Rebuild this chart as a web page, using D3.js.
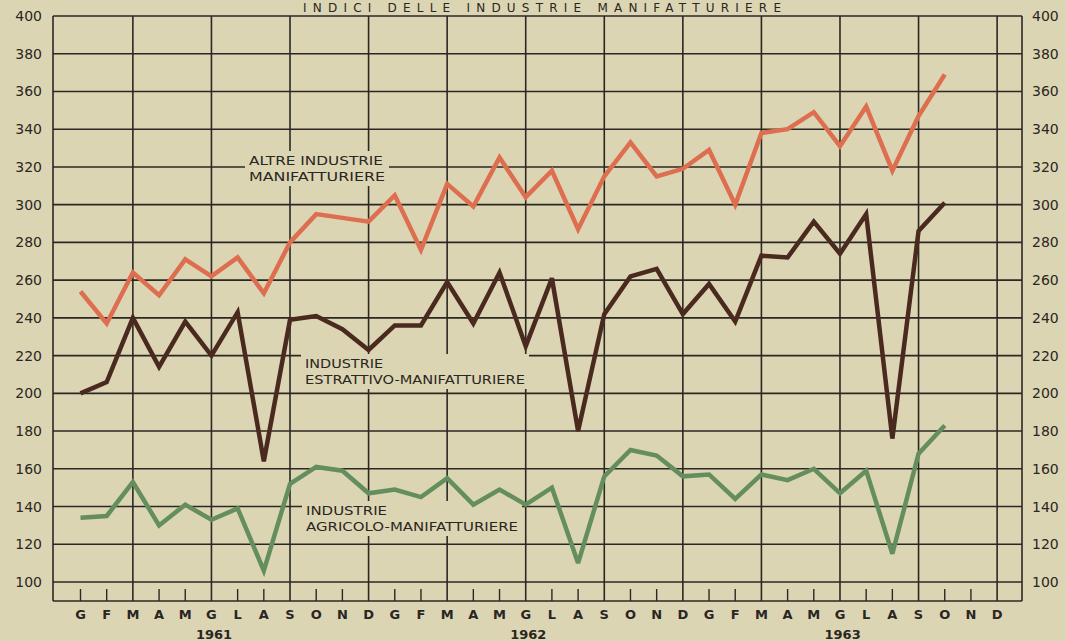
<!DOCTYPE html>
<html><head><meta charset="utf-8">
<script src="https://cdn.jsdelivr.net/npm/d3@7"></script>
<style>
body{margin:0;background:#dcd5b4;}
svg{display:block;}
text{font-family:"DejaVu Sans",sans-serif;fill:#2a2621;}
</style>
</head><body>
<svg id="chart" width="1066" height="641"></svg>
<script>
const monthLabels = ["G","F","M","A","M","G","L","A","S","O","N","D"];
const years = ["1961","1962","1963"];
const yTicks = [100,120,140,160,180,200,220,240,260,280,300,320,340,360,380,400];
const title = "INDICI DELLE INDUSTRIE MANIFATTURIERE";
const seriesNames = [
  ["ALTRE INDUSTRIE","MANIFATTURIERE"],
  ["INDUSTRIE","ESTRATTIVO-MANIFATTURIERE"],
  ["INDUSTRIE","AGRICOLO-MANIFATTURIERE"]
];
const altre = [254,237,264,252,271,262,272,253,280,295,293,291,
               305,276,311,299,325,304,318,287,315,333,315,319,
               329,300,338,340,349,331,352,318,347,369];
const estrattivo = [200,206,240,214,238,220,243,164,239,241,234,223,
                    236,236,259,237,264,225,261,180,242,262,266,242,
                    258,238,273,272,291,274,295,176,286,301];
const agricolo = [134,135,153,130,141,133,139,106,152,161,159,147,
                  149,145,155,141,149,141,150,110,156,170,167,156,
                  157,144,157,154,160,147,159,115,168,183];

const svg = d3.select("#chart");
const bg = "#dcd5b4";
const gridCol = "#2b2823";
const x = d3.scaleLinear().domain([-1.05, 35.95]).range([53, 1022]);
const y = d3.scaleLinear().domain([100, 400]).range([582, 16]);
const stripBottom = 601;
const nMonths = monthLabels.length * years.length;
const idx = d3.range(nMonths);

// title
svg.append("text").attr("x", 542).attr("y", 12).attr("text-anchor","middle")
  .attr("font-size", 12).attr("textLength", 478).attr("lengthAdjust","spacing")
  .text(title);

const g = svg.append("g");
g.selectAll("line.h").data(yTicks).join("line")
  .attr("x1", x(-1.05)).attr("x2", x(35.95))
  .attr("y1", d => y(d)).attr("y2", d => y(d))
  .attr("stroke", gridCol).attr("stroke-width", 1.6);
const vIdx = idx.filter(i => i % 3 === 2);
g.selectAll("line.v").data(vIdx).join("line")
  .attr("x1", d => x(d)).attr("x2", d => x(d))
  .attr("y1", y(400)).attr("y2", stripBottom)
  .attr("stroke", gridCol).attr("stroke-width", 1.6);
g.selectAll("line.e").data([-1.05, 35.95]).join("line")
  .attr("x1", d => x(d)).attr("x2", d => x(d))
  .attr("y1", y(400)).attr("y2", stripBottom)
  .attr("stroke", gridCol).attr("stroke-width", 1.6);
g.append("line").attr("x1", x(-1.05)).attr("x2", x(35.95))
  .attr("y1", stripBottom).attr("y2", stripBottom)
  .attr("stroke", gridCol).attr("stroke-width", 1.6);
g.selectAll("line.t").data(idx.filter(i => i % 3 !== 2)).join("line")
  .attr("x1", d => x(d)).attr("x2", d => x(d))
  .attr("y1", stripBottom - 12).attr("y2", stripBottom)
  .attr("stroke", gridCol).attr("stroke-width", 1.4);

svg.selectAll("text.yl").data(yTicks).join("text")
  .attr("x", 42).attr("y", d => y(d) + 5).attr("text-anchor","end")
  .attr("font-size", 14).text(d => d);
svg.selectAll("text.yr").data(yTicks).join("text")
  .attr("x", 1032).attr("y", d => y(d) + 5).attr("text-anchor","start")
  .attr("font-size", 14).text(d => d);

svg.selectAll("text.m").data(idx).join("text")
  .attr("x", d => x(d)).attr("y", 619).attr("text-anchor","middle")
  .attr("font-size", 13).attr("font-weight","bold")
  .text(d => monthLabels[d % 12]);
svg.selectAll("text.yr2").data(years).join("text")
  .attr("x", (d, i) => x(5.1 + 12 * i)).attr("y", 639).attr("text-anchor","middle")
  .attr("font-size", 13).attr("font-weight","bold").text(d => d);

const labelPos = [
  {x: 249, y: 165, w: [134, 136]},
  {x: 305, y: 368, w: [78, 220]},
  {x: 306, y: 515, w: [81, 212]}
];
seriesNames.forEach((lines, k) => {
  const p = labelPos[k];
  const lg = svg.append("g");
  const rect = lg.append("rect").attr("fill", bg);
  const t = lg.append("text").attr("font-size", 13);
  lines.forEach((s, j) => {
    t.append("tspan").attr("x", p.x).attr("y", p.y + j * 16)
      .attr("textLength", p.w[j]).attr("lengthAdjust","spacingAndGlyphs").text(s);
  });
  const bb = t.node().getBBox();
  rect.attr("x", bb.x - 4).attr("y", bb.y - 2).attr("width", bb.width + 8).attr("height", bb.height + 4);
});

const line = d3.line().x((d, i) => x(i)).y(d => y(d));
const series = [
  {data: altre, color: "#dd6e4f"},
  {data: estrattivo, color: "#4a2a1f"},
  {data: agricolo, color: "#648e5d"}
];
svg.selectAll("path.s").data(series).join("path")
  .attr("d", d => line(d.data)).attr("fill","none")
  .attr("stroke", d => d.color).attr("stroke-width", 4.5)
  .attr("stroke-linejoin","miter").attr("stroke-miterlimit", 3);
</script>
</body></html>
